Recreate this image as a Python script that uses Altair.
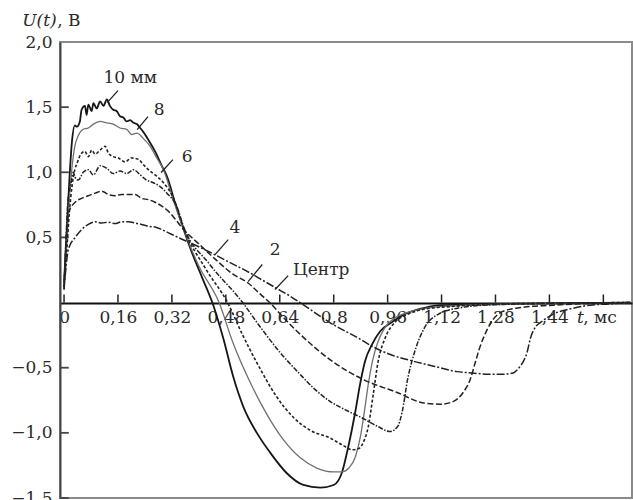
import altair as alt
import pandas as pd

# ---------------- data ----------------
t_10 = [0, 0.008, 0.016, 0.024, 0.032, 0.038, 0.047, 0.052, 0.062, 0.067, 0.072, 0.082, 0.087, 0.097,
        0.107, 0.117, 0.127, 0.136, 0.146, 0.156, 0.166, 0.176, 0.186, 0.196, 0.206, 0.216, 0.226, 0.235,
        0.25, 0.27, 0.29, 0.305, 0.33, 0.355, 0.38, 0.41, 0.44, 0.473, 0.502, 0.532, 0.572, 0.611, 0.661,
        0.71, 0.76, 0.80, 0.825, 0.843, 0.864, 0.878, 0.893, 0.914, 0.938, 0.973, 1.01, 1.07, 1.12, 1.25,
        1.45, 1.68]
u_10 = [0.15, 0.55, 0.95, 1.25, 1.36, 1.35, 1.39, 1.48, 1.51, 1.44, 1.52, 1.47, 1.53, 1.49,
        1.545, 1.51, 1.56, 1.51, 1.48, 1.47, 1.43, 1.42, 1.39, 1.40, 1.38, 1.37, 1.34, 1.31,
        1.25, 1.16, 1.05, 0.97, 0.76, 0.56, 0.38, 0.19, 0.0, -0.28, -0.57, -0.80, -1.0, -1.15, -1.31,
        -1.40, -1.42, -1.40, -1.30, -1.11, -0.84, -0.63, -0.45, -0.32, -0.22, -0.15, -0.09, -0.04, -0.02, -0.012,
        -0.006, 0.0]

t_8 = [0, 0.008, 0.016, 0.024, 0.032, 0.042, 0.057, 0.072, 0.087, 0.107, 0.127, 0.146, 0.166, 0.186,
       0.2, 0.216, 0.235, 0.255, 0.275, 0.295, 0.325, 0.355, 0.40, 0.46, 0.50, 0.55, 0.60, 0.65, 0.70,
       0.75, 0.80, 0.825, 0.845, 0.865, 0.88, 0.892, 0.903, 0.915, 0.93, 0.95, 0.98, 1.02, 1.08, 1.2,
       1.4, 1.68]
u_8 = [0.15, 0.45, 0.8, 1.05, 1.2, 1.28, 1.33, 1.34, 1.37, 1.39, 1.38, 1.37, 1.34, 1.33,
       1.29, 1.30, 1.26, 1.2, 1.11, 1.02, 0.78, 0.56, 0.28, 0.0, -0.3, -0.6, -0.85, -1.05, -1.19,
       -1.27, -1.30, -1.30, -1.27, -1.18, -1.02, -0.82, -0.62, -0.45, -0.31, -0.2, -0.12, -0.075, -0.04, -0.02,
       -0.01, 0.0]

t_6 = [0, 0.008, 0.016, 0.024, 0.032, 0.04, 0.05, 0.062, 0.072, 0.082, 0.092, 0.107, 0.122, 0.131,
       0.146, 0.161, 0.181, 0.2, 0.22, 0.235, 0.25, 0.27, 0.295, 0.325, 0.355, 0.42, 0.485, 0.53, 0.58,
       0.63, 0.68, 0.73, 0.79, 0.83, 0.855, 0.875, 0.89, 0.902, 0.917, 0.932, 0.953, 0.982, 1.02, 1.07,
       1.15, 1.3, 1.68]
u_6 = [0.12, 0.4, 0.7, 0.9, 1.02, 1.08, 1.14, 1.16, 1.12, 1.17, 1.14, 1.17, 1.2, 1.15,
       1.12, 1.11, 1.08, 1.11, 1.10, 1.06, 1.02, 0.98, 0.92, 0.8, 0.57, 0.26, 0.0, -0.25, -0.5,
       -0.72, -0.88, -0.98, -1.04, -1.1, -1.13, -1.12, -1.06, -0.96, -0.71, -0.45, -0.27, -0.15, -0.09, -0.05,
       -0.03, -0.01, 0.0]

t_4 = [0, 0.006, 0.012, 0.02, 0.027, 0.035, 0.042, 0.057, 0.072, 0.087, 0.107, 0.127, 0.146, 0.166,
       0.186, 0.206, 0.226, 0.245, 0.265, 0.285, 0.305, 0.334, 0.355, 0.43, 0.53, 0.58, 0.64, 0.70,
       0.75, 0.79, 0.84, 0.88, 0.93, 0.967, 0.99, 1.003, 1.02, 1.04, 1.07, 1.11, 1.175, 1.29, 1.68]
u_4 = [0.12, 0.5, 0.8, 0.9, 1.0, 0.95, 0.94, 1.0, 1.02, 0.98, 1.05, 1.03, 0.99, 1.01,
       0.99, 1.02, 0.98, 0.94, 0.92, 0.89, 0.84, 0.74, 0.58, 0.3, 0.0, -0.18, -0.38, -0.55,
       -0.68, -0.76, -0.83, -0.88, -0.95, -0.99, -0.95, -0.84, -0.58, -0.38, -0.19, -0.09, -0.04, -0.015, 0.0]

t_2 = [0, 0.005, 0.013, 0.033, 0.052, 0.072, 0.092, 0.112, 0.131, 0.151, 0.171, 0.191, 0.211, 0.23,
       0.25, 0.27, 0.29, 0.31, 0.33, 0.355, 0.40, 0.45, 0.50, 0.546, 0.58, 0.61, 0.66, 0.72, 0.79,
       0.887, 0.988, 1.066, 1.116, 1.154, 1.184, 1.205, 1.22, 1.234, 1.255, 1.273, 1.30, 1.35, 1.45, 1.68]
u_2 = [0.1, 0.4, 0.69, 0.77, 0.80, 0.82, 0.84, 0.855, 0.83, 0.82, 0.83, 0.83, 0.83, 0.80,
       0.79, 0.77, 0.74, 0.70, 0.64, 0.56, 0.45, 0.33, 0.22, 0.15, 0.07, 0.0, -0.14, -0.29, -0.44,
       -0.59, -0.69, -0.77, -0.78, -0.76, -0.69, -0.59, -0.46, -0.34, -0.21, -0.13, -0.07, -0.04, -0.02, 0.0]

t_c = [0, 0.005, 0.013, 0.033, 0.052, 0.072, 0.092, 0.112, 0.131, 0.151, 0.171, 0.191, 0.211, 0.23,
       0.25, 0.27, 0.29, 0.31, 0.33, 0.355, 0.39, 0.43, 0.49, 0.55, 0.59, 0.63, 0.67, 0.70, 0.74, 0.79,
       0.878, 0.917, 0.97, 1.036, 1.10, 1.166, 1.21, 1.26, 1.30, 1.332, 1.353, 1.365, 1.374, 1.383, 1.398,
       1.418, 1.45, 1.50, 1.56, 1.62, 1.68]
u_c = [0.1, 0.25, 0.41, 0.50, 0.56, 0.60, 0.62, 0.61, 0.617, 0.606, 0.62, 0.62, 0.61, 0.60,
       0.585, 0.58, 0.56, 0.535, 0.51, 0.48, 0.44, 0.39, 0.31, 0.23, 0.17, 0.11, 0.05, 0.0, -0.07, -0.155,
       -0.28, -0.34, -0.40, -0.45, -0.49, -0.53, -0.54, -0.55, -0.55, -0.54, -0.49, -0.44, -0.38, -0.28, -0.19,
       -0.145, -0.09, -0.05, -0.02, -0.01, 0.0]

x_ticks = [0, 0.16, 0.32, 0.48, 0.64, 0.8, 0.96, 1.12, 1.28, 1.44, 1.6]
x_labels = [0, 0.16, 0.32, 0.48, 0.64, 0.8, 0.96, 1.12, 1.28, 1.44]
y_ticks = [-1.5, -1.0, -0.5, 0.5, 1.0, 1.5]
y_labels = [-1.5, -1.0, -0.5, 0.5, 1.0, 1.5, 2.0]

label_text = ["10 мм", "8", "6", "4", "2", "Центр"]
label_t = [0.196, 0.282, 0.365, 0.507, 0.626, 0.763]
label_u = [1.727, 1.48, 1.12, 0.576, 0.407, 0.253]
lead_t1 = [0.128, 0.217, 0.288, 0.448, 0.546, 0.626]
lead_u1 = [1.535, 1.328, 0.998, 0.368, 0.161, 0.10]
lead_t2 = [0.160, 0.249, 0.323, 0.487, 0.588, 0.665]
lead_u2 = [1.627, 1.427, 1.097, 0.483, 0.292, 0.207]

# ---------------- chart ----------------
FONT = "DejaVu Serif"
FS = 17
INK = "#2a2a2a"
XMIN, XMAX = -0.012, 1.685

xs = alt.Scale(domain=[XMIN, XMAX], nice=False, zero=False)
ys = alt.Scale(domain=[-1.5, 2.0], nice=False, zero=False)

x_axis = alt.Axis(values=x_labels, labelExpr="replace(format(datum.value, '~g'), '.', ',')",
                  ticks=False, grid=False, title=None, offset=-195, domainColor="#111",
                  domainWidth=2, labelFont=FONT, labelFontSize=FS, labelColor=INK,
                  labelPadding=6, labelOverlap=False, labelFlush=False)
y_axis = alt.Axis(values=y_labels,
                  labelExpr="replace(replace(format(datum.value, '.1f'), '.', ','), '-', '−')",
                  ticks=False, grid=False, title=None, domainColor="#444", domainWidth=2,
                  labelFont=FONT, labelFontSize=FS, labelColor=INK, labelPadding=8,
                  labelOverlap=False, labelFlush=False)

X = alt.X("t:Q", scale=xs, axis=x_axis)
Y = alt.Y("U:Q", scale=ys, axis=y_axis)

curves = [
    (t_10, u_10, "#161616", 1.8, None),
    (t_8, u_8, "#707070", 1.3, None),
    (t_6, u_6, "#222222", 1.6, [3, 2]),
    (t_4, u_4, "#222222", 1.5, [5, 1.5, 1.5, 1.5]),
    (t_2, u_2, "#222222", 1.5, [6, 2.5]),
    (t_c, u_c, "#222222", 1.5, [8, 2, 2, 2]),
]

layers = []

# inward ticks
xt = pd.DataFrame({"t": x_ticks, "U": [0.0] * len(x_ticks), "U2": [0.062] * len(x_ticks)})
layers.append(alt.Chart(xt).mark_rule(color="#222", strokeWidth=1.5).encode(x=X, y=Y, y2="U2:Q"))
yt = pd.DataFrame({"U": y_ticks, "t": [XMIN] * len(y_ticks), "t2": [XMIN + 0.026] * len(y_ticks)})
layers.append(alt.Chart(yt).mark_rule(color="#444", strokeWidth=1.8).encode(x=X, x2="t2:Q", y=Y))

for ts, us, col, w, dash in curves:
    df = pd.DataFrame({"t": ts, "U": us})
    kw = dict(color=col, strokeWidth=w, interpolate="monotone")
    if dash:
        kw["strokeDash"] = dash
    layers.append(alt.Chart(df).mark_line(**kw).encode(x=X, y=Y))

# leader lines and curve labels
ld = pd.DataFrame({"t": lead_t1, "U": lead_u1, "t2": lead_t2, "U2": lead_u2})
layers.append(alt.Chart(ld).mark_rule(color="#222", strokeWidth=1.3).encode(
    x=X, y=Y, x2="t2:Q", y2="U2:Q"))
lb = pd.DataFrame({"txt": label_text, "t": label_t, "U": label_u})
layers.append(alt.Chart(lb).mark_text(font=FONT, fontSize=FS, color=INK, align="center",
                                      baseline="middle").encode(x=X, y=Y, text="txt:N"))

# axis titles
ti = pd.DataFrame({"txt": ["U(t)", "t"], "t": [-0.124, 1.522], "U": [2.16, -0.118]})
layers.append(alt.Chart(ti).mark_text(font=FONT, fontSize=FS, fontStyle="italic", color=INK,
                                      align="left", baseline="middle").encode(x=X, y=Y, text="txt:N"))
tn = pd.DataFrame({"txt": [", В", ", мс"], "t": [-0.02, 1.54], "U": [2.16, -0.118]})
layers.append(alt.Chart(tn).mark_text(font=FONT, fontSize=FS, color=INK,
                                      align="left", baseline="middle").encode(x=X, y=Y, text="txt:N"))

chart = alt.layer(*layers).properties(
    width=572, height=456, autosize="none",
    padding={"left": 60, "top": 42, "right": 1, "bottom": 2},
    background="white",
).configure_view(stroke="#8a8a8a", strokeWidth=2)

chart.save("out.html", embed_options={"renderer": "svg", "actions": False})
